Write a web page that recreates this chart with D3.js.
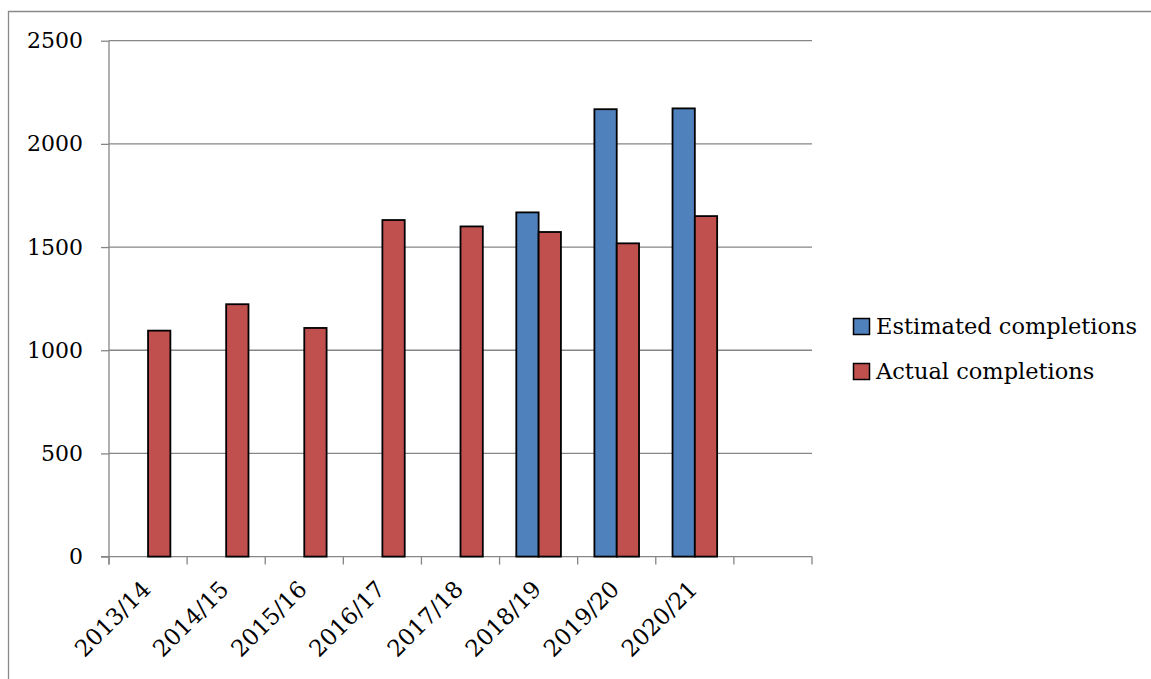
<!DOCTYPE html>
<html>
<head>
<meta charset="utf-8">
<script src="https://cdn.jsdelivr.net/npm/d3@7"></script>
<style>
  html, body { margin: 0; padding: 0; background: #fff; }
  svg { display: block; font-family: "DejaVu Serif", serif; }
</style>
</head>
<body>
<svg id="chart"></svg>
<script>
// Data
const categories = ["2013/14", "2014/15", "2015/16", "2016/17", "2017/18", "2018/19", "2019/20", "2020/21", ""];
const estimated = [null, null, null, null, null, 1668, 2168, 2172, null];
const actual = [1095, 1223, 1108, 1631, 1600, 1573, 1518, 1650, null];
const seriesNames = ["Estimated completions", "Actual completions"];
const yTicks = [0, 500, 1000, 1500, 2000, 2500];

const BLUE = "#4f81bd";
const RED = "#c0504d";
const GRID = "#868686";

const width = 1151, height = 679;
const svg = d3.select("#chart").attr("width", width).attr("height", height);

// outer frame (right/bottom edges fall outside the picture)
svg.append("path")
    .attr("d", "M8.5,690 L8.5,11.5 L1160,11.5")
    .attr("fill", "none")
    .attr("stroke", "#898989")
    .attr("stroke-width", 1.3);

const plot = { left: 109, right: 812, top: 40.7, bottom: 556.6 };

const x = d3.scaleBand()
    .domain(categories.map((c, i) => i))
    .range([plot.left, plot.right])
    .paddingInner(0)
    .paddingOuter(0);

const y = d3.scaleLinear()
    .domain([0, 2500])
    .range([plot.bottom, plot.top]);

const barW = x.bandwidth() / 3.5;   // gap width 150%

// y ticks + labels
const yAxis = svg.append("g")
    .attr("transform", `translate(${plot.left},0)`)
    .call(d3.axisLeft(y).tickValues(yTicks).tickSize(8).tickPadding(18).tickFormat(d3.format("d")));
yAxis.select(".domain").remove();
yAxis.selectAll(".tick line").attr("stroke", GRID).attr("stroke-width", 1.3);
yAxis.selectAll(".tick text")
    .attr("fill", "#000")
    .attr("font-size", 22)
    .attr("font-family", "DejaVu Serif, serif");

// gridlines
svg.append("g").selectAll("line.grid")
    .data(yTicks.filter(d => d > 0))
    .join("line")
    .attr("class", "grid")
    .attr("x1", plot.left).attr("x2", plot.right)
    .attr("y1", d => y(d)).attr("y2", d => y(d))
    .attr("stroke", GRID).attr("stroke-width", 1.3);

// y axis line
svg.append("line")
    .attr("x1", plot.left).attr("x2", plot.left)
    .attr("y1", plot.top).attr("y2", plot.bottom + 8)
    .attr("stroke", GRID).attr("stroke-width", 1.3);

// x axis line + ticks at band edges
svg.append("line")
    .attr("x1", plot.left - 8).attr("x2", plot.right)
    .attr("y1", plot.bottom).attr("y2", plot.bottom)
    .attr("stroke", GRID).attr("stroke-width", 1.3);

const edges = d3.range(categories.length + 1).map(i => plot.left + i * x.step());
svg.append("g").selectAll("line")
    .data(edges)
    .join("line")
    .attr("x1", d => d).attr("x2", d => d)
    .attr("y1", plot.bottom).attr("y2", plot.bottom + 8)
    .attr("stroke", GRID).attr("stroke-width", 1.3);

// bars
const bars = svg.append("g");
const series = [estimated, actual];
const colors = [BLUE, RED];
series.forEach((vals, s) => {
    bars.append("g").selectAll("rect")
        .data(vals.map((v, i) => ({ v: v, i: i })).filter(d => d.v != null))
        .join("rect")
        .attr("x", d => x(d.i) + x.bandwidth() / 2 + (s - 1) * barW)
        .attr("y", d => y(d.v))
        .attr("width", barW)
        .attr("height", d => y(0) - y(d.v))
        .attr("fill", colors[s])
        .attr("stroke", "#000")
        .attr("stroke-width", 1.8);
});

// x labels rotated 45
svg.append("g").selectAll("text")
    .data(categories.filter(c => c !== ""))
    .join("text")
    .attr("transform", (d, i) => `translate(${x(i) + x.bandwidth() / 2 + 4},${plot.bottom + 34}) rotate(-45)`)
    .attr("text-anchor", "end")
    .attr("font-size", 23)
    .attr("fill", "#000")
    .text(d => d);

// legend
const legend = svg.append("g").attr("transform", "translate(853,318)");
seriesNames.forEach((name, i) => {
    const row = legend.append("g").attr("transform", `translate(0,${i * 45})`);
    row.append("rect")
        .attr("x", 0.5).attr("y", 0.5)
        .attr("width", 16).attr("height", 16)
        .attr("fill", colors[i])
        .attr("stroke", "#000")
        .attr("stroke-width", 1.5);
    row.append("text")
        .attr("x", 23).attr("y", 16)
        .attr("font-size", 22.5)
        .attr("fill", "#000")
        .text(name);
});
</script>
</body>
</html>
